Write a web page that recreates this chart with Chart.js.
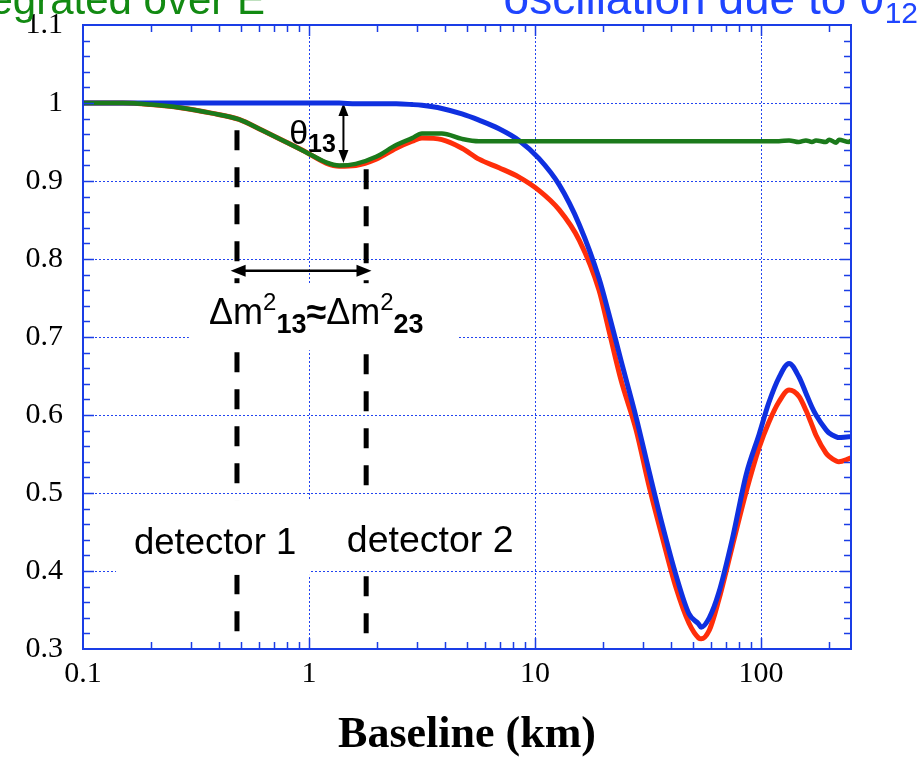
<!DOCTYPE html>
<html>
<head>
<meta charset="utf-8">
<script src="https://cdn.jsdelivr.net/npm/chart.js@4.4.1/dist/chart.umd.min.js"></script>
<style>
  body { margin: 0; background: #fff; }
  #wrap { width: 921px; height: 757px; }
</style>
</head>
<body>
<div id="wrap"><canvas id="chart" width="921" height="757"></canvas></div>
<script>
// baseline distance (km) and survival probabilities
const baselineKm = [0.1, 0.15, 0.2, 0.27, 0.37, 0.49, 0.62, 0.79, 0.97, 1.19, 1.36, 1.61, 1.98, 2.43, 2.86, 3.16, 3.87, 4.75, 5.65, 6.93,
  8.49, 10.4, 12.8, 15.7, 19.2, 21.2, 24, 28, 32, 36.5, 42, 48, 53, 54.3, 59, 65, 74.5, 86, 98, 108,
  120, 133, 147, 158, 168, 175, 194, 200, 215, 221, 245, 250];

// blue: theta12 only
const probTheta12 = [1.0, 1.0, 1.0, 1.0, 1.0, 1.0, 1.0, 1.0, 1.0, 1.0, 1.0, 0.999, 0.999, 0.999, 0.998, 0.997, 0.993, 0.986, 0.978, 0.967,
  0.952, 0.929, 0.895, 0.844, 0.775, 0.73, 0.67, 0.597, 0.527, 0.46, 0.395, 0.345, 0.332, 0.328, 0.34, 0.372, 0.44, 0.524, 0.575, 0.615,
  0.648, 0.666, 0.649, 0.628, 0.61, 0.6, 0.581, 0.577, 0.572, 0.571, 0.572, 0.572];

// red: theta12 + theta13
const probBoth = [1.0, 1.0, 0.998, 0.994, 0.987, 0.979, 0.965, 0.95, 0.937, 0.923, 0.919, 0.92, 0.928, 0.942, 0.951, 0.955, 0.953, 0.942, 0.928, 0.917,
  0.905, 0.888, 0.863, 0.824, 0.76, 0.709, 0.645, 0.581, 0.508, 0.444, 0.379, 0.333, 0.314, 0.313, 0.324, 0.363, 0.431, 0.502, 0.558, 0.59,
  0.617, 0.632, 0.624, 0.606, 0.587, 0.574, 0.551, 0.547, 0.541, 0.54, 0.544, 0.545];

// green: theta13 integrated over E
const probTheta13 = [1.0, 1.0, 0.998, 0.994, 0.987, 0.979, 0.965, 0.95, 0.937, 0.924, 0.92, 0.922, 0.931, 0.946, 0.955, 0.961, 0.961, 0.954, 0.951, 0.951,
  0.951, 0.951, 0.951, 0.951, 0.951, 0.951, 0.951, 0.951, 0.951, 0.951, 0.951, 0.951, 0.951, 0.951, 0.951, 0.951, 0.951, 0.951, 0.951, 0.951,
  0.951, 0.952, 0.95, 0.952, 0.95, 0.952, 0.95, 0.953, 0.949, 0.953, 0.95, 0.952];

const xTickValues = [0.1, 1, 10, 100];
const yTickValues = [0.3, 0.4, 0.5, 0.6, 0.7, 0.8, 0.9, 1.0, 1.1];

// annotation anchors, in data units
const detectorKm = [0.48, 1.79];
const detectorTop = [0.965, 0.915];
const detectorBottom = 0.312;
const spanArrow = { from: 0.45, to: 1.89, y: 0.785 };
const thetaArrow = { km: 1.42, from: 1.0, to: 0.923 };

const serif = '"Liberation Serif", "Times New Roman", serif';
const sans = '"Liberation Sans", Arial, sans-serif';

function richText(ctx, x, y, parts) {
  let cx = x;
  parts.forEach(p => {
    ctx.font = p.font;
    ctx.fillText(p.t, cx, y + (p.dy || 0));
    cx += ctx.measureText(p.t).width;
  });
  return cx;
}

function whiteBox(ctx, xs, ys, x0, x1, y0, y1) {
  const l = xs.getPixelForValue(x0), r = xs.getPixelForValue(x1);
  const t = ys.getPixelForValue(y0), b = ys.getPixelForValue(y1);
  ctx.fillStyle = '#fff';
  ctx.fillRect(l, t, r - l, b - t);
}

const overlay = {
  id: 'overlay',
  beforeDatasetsDraw(chart) {
    const { ctx, chartArea: a, scales: { x, y } } = chart;
    ctx.save();

    // dotted grid
    ctx.strokeStyle = '#2244f0';
    ctx.lineWidth = 1;
    ctx.setLineDash([2, 2]);
    ctx.beginPath();
    xTickValues.slice(1).forEach(v => {
      const px = Math.round(x.getPixelForValue(v)) + 0.5;
      ctx.moveTo(px, a.top); ctx.lineTo(px, a.bottom);
    });
    yTickValues.slice(1, -1).forEach(v => {
      const py = Math.round(y.getPixelForValue(v)) + 0.5;
      ctx.moveTo(a.left, py); ctx.lineTo(a.right, py);
    });
    ctx.stroke();

    // detector positions (dashed)
    ctx.strokeStyle = '#000';
    ctx.lineWidth = 5;
    ctx.setLineDash([20, 17]);
    detectorKm.forEach((d, i) => {
      const px = x.getPixelForValue(d);
      ctx.beginPath();
      ctx.moveTo(px, y.getPixelForValue(detectorTop[i]));
      ctx.lineTo(px, y.getPixelForValue(detectorBottom));
      ctx.stroke();
    });
    ctx.setLineDash([]);

    // double arrow between detectors
    ctx.fillStyle = '#000';
    ctx.lineWidth = 2.5;
    const ax0 = x.getPixelForValue(spanArrow.from), ax1 = x.getPixelForValue(spanArrow.to);
    const ay = y.getPixelForValue(spanArrow.y);
    ctx.beginPath(); ctx.moveTo(ax0 + 8, ay); ctx.lineTo(ax1 - 8, ay); ctx.stroke();
    ctx.beginPath(); ctx.moveTo(ax0, ay); ctx.lineTo(ax0 + 15, ay - 6); ctx.lineTo(ax0 + 15, ay + 6); ctx.fill();
    ctx.beginPath(); ctx.moveTo(ax1, ay); ctx.lineTo(ax1 - 15, ay - 6); ctx.lineTo(ax1 - 15, ay + 6); ctx.fill();

    // theta13 double arrow
    ctx.lineWidth = 2;
    const tx = x.getPixelForValue(thetaArrow.km);
    const ty0 = y.getPixelForValue(thetaArrow.from), ty1 = y.getPixelForValue(thetaArrow.to);
    ctx.beginPath(); ctx.moveTo(tx, ty0 + 8); ctx.lineTo(tx, ty1 - 8); ctx.stroke();
    ctx.beginPath(); ctx.moveTo(tx, ty0); ctx.lineTo(tx - 5, ty0 + 13); ctx.lineTo(tx + 5, ty0 + 13); ctx.fill();
    ctx.beginPath(); ctx.moveTo(tx, ty1); ctx.lineTo(tx - 5, ty1 - 13); ctx.lineTo(tx + 5, ty1 - 13); ctx.fill();

    // white label boxes
    whiteBox(ctx, x, y, 0.294, 4.52, 0.769, 0.683);
    whiteBox(ctx, x, y, 0.14, 1.02, 0.491, 0.395);
    whiteBox(ctx, x, y, 1.05, 9.4, 0.491, 0.405);

    // labels
    ctx.fillStyle = '#000';
    ctx.textAlign = 'left';
    ctx.textBaseline = 'alphabetic';
    richText(ctx, x.getPixelForValue(0.817), y.getPixelForValue(0.947), [
      { t: 'θ', font: '34px ' + sans },
      { t: '13', font: 'bold 25px ' + sans, dy: 8 }
    ]);
    richText(ctx, x.getPixelForValue(0.361), y.getPixelForValue(0.7167), [
      { t: 'Δm', font: '36px ' + sans },
      { t: '2', font: '24px ' + sans, dy: -14 },
      { t: '13', font: 'bold 27px ' + sans, dy: 9 },
      { t: '≈', font: 'bold 36px ' + sans },
      { t: 'Δm', font: '36px ' + sans },
      { t: '2', font: '24px ' + sans, dy: -14 },
      { t: '23', font: 'bold 27px ' + sans, dy: 9 }
    ]);
    ctx.font = '36.5px ' + sans;
    ctx.fillText('detector 1', x.getPixelForValue(0.168), y.getPixelForValue(0.422));
    ctx.font = '37.5px ' + sans;
    ctx.fillText('detector 2', x.getPixelForValue(1.47), y.getPixelForValue(0.424));
    ctx.restore();
  },
  afterDraw(chart) {
    const { ctx, chartArea: a, scales: { x, y } } = chart;
    ctx.save();
    // frame
    ctx.strokeStyle = '#1a3de6';
    ctx.lineWidth = 2;
    ctx.strokeRect(a.left, a.top, a.right - a.left, a.bottom - a.top);

    // inward ticks
    ctx.lineWidth = 1.5;
    ctx.beginPath();
    xTickValues.forEach(d => {
      for (let k = 1; k <= 9; k++) {
        const v = d * k;
        if (v <= 0.1 || v >= 250) continue;
        const px = Math.round(x.getPixelForValue(v)) + 0.5;
        const len = k === 1 ? 11 : 7;
        ctx.moveTo(px, a.bottom); ctx.lineTo(px, a.bottom - len);
        ctx.moveTo(px, a.top); ctx.lineTo(px, a.top + len);
      }
    });
    for (let i = 16; i <= 54; i++) {
      const v = i * 0.02;
      const py = Math.round(y.getPixelForValue(v)) + 0.5;
      const len = i % 5 === 0 ? 11 : 7;
      ctx.moveTo(a.left, py); ctx.lineTo(a.left + len, py);
      ctx.moveTo(a.right, py); ctx.lineTo(a.right - len, py);
    }
    ctx.stroke();

    // axis title
    ctx.fillStyle = '#000';
    ctx.textAlign = 'center';
    ctx.textBaseline = 'alphabetic';
    ctx.font = 'bold 44px ' + serif;
    ctx.fillText('Baseline (km)', (a.left + a.right) / 2, 747);

    // headings clipped at the top edge
    ctx.textAlign = 'left';
    ctx.fillStyle = '#128a12';
    ctx.font = '42px ' + sans;
    const g = 'Integrated over E';
    ctx.fillText(g, 265 - ctx.measureText(g).width, 14);
    ctx.fillStyle = '#1f45ff';
    ctx.font = '46px ' + sans;
    const b = 'oscillation due to θ';
    const bw = ctx.measureText(b).width;
    ctx.font = '30px ' + sans;
    const sw = ctx.measureText('12').width;
    richText(ctx, 918 - sw - bw, 14, [
      { t: b, font: '46px ' + sans },
      { t: '12', font: '30px ' + sans, dy: 9 }
    ]);
    ctx.restore();
  }
};

const toPoints = vals => baselineKm.map((km, i) => ({ x: km, y: vals[i] }));

new Chart(document.getElementById('chart'), {
  type: 'line',
  data: {
    datasets: [
      { label: 'theta13 integrated over E', data: toPoints(probTheta13), borderColor: '#1b7a1b', borderWidth: 4.5 },
      { label: 'theta12 only', data: toPoints(probTheta12), borderColor: '#0f30e0', borderWidth: 5 },
      { label: 'theta12 + theta13', data: toPoints(probBoth), borderColor: '#ff2e0a', borderWidth: 5 }
    ]
  },
  options: {
    responsive: false,
    animation: false,
    devicePixelRatio: 1,
    events: [],
    layout: { padding: { top: 25, right: 70, left: 0, bottom: 0 } },
    elements: {
      point: { radius: 0 },
      line: { tension: 0.4, cubicInterpolationMode: 'monotone', fill: false }
    },
    plugins: { legend: { display: false }, tooltip: { enabled: false } },
    scales: {
      x: {
        type: 'logarithmic',
        min: 0.1,
        max: 250,
        afterBuildTicks: s => { s.ticks = xTickValues.map(v => ({ value: v })); },
        afterFit: s => { s.height = 108; s.paddingLeft = 0; s.paddingRight = 0; },
        grid: { display: false, drawTicks: false },
        border: { display: false },
        ticks: {
          padding: 7,
          color: '#000',
          font: { family: serif, size: 30 },
          maxRotation: 0,
          callback: v => String(v)
        }
      },
      y: {
        type: 'linear',
        min: 0.3,
        max: 1.1,
        afterBuildTicks: s => { s.ticks = yTickValues.map(v => ({ value: v })); },
        afterFit: s => { s.width = 83; s.paddingTop = 0; s.paddingBottom = 0; },
        grid: { display: false, drawTicks: false },
        border: { display: false },
        ticks: {
          padding: 20,
          color: '#000',
          font: { family: serif, size: 30 },
          callback: v => String(Number(v.toFixed(1)))
        }
      }
    }
  },
  plugins: [overlay]
});
</script>
</body>
</html>
